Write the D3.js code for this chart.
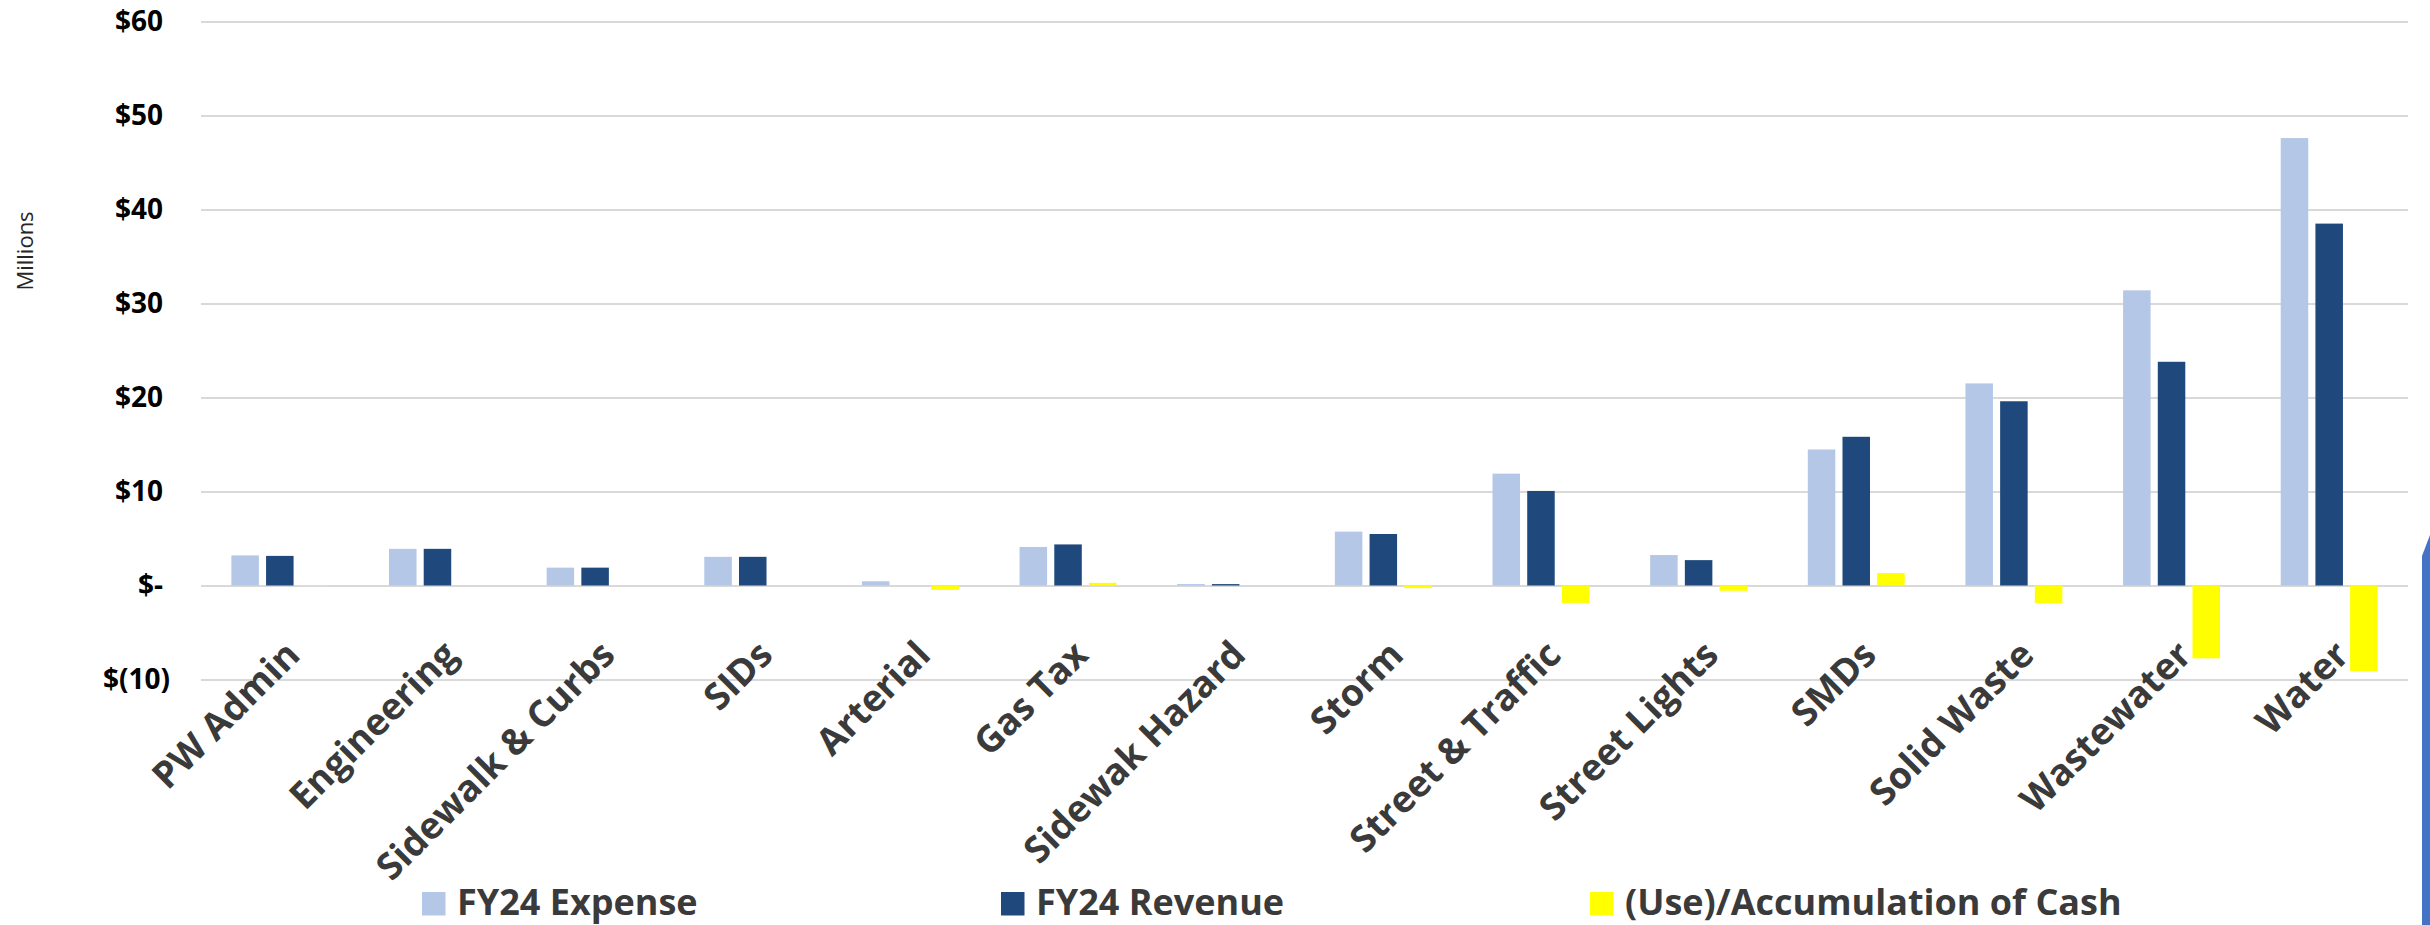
<!DOCTYPE html>
<html>
<head>
<meta charset="utf-8">
<script src="https://cdn.jsdelivr.net/npm/d3@7"></script>
<style>
  body { margin: 0; background: #fff; }
</style>
</head>
<body>
<div id="chart"></div>
<script>
// categories along the x axis
const categories = ["PW Admin", "Engineering", "Sidewalk & Curbs", "SIDs", "Arterial", "Gas Tax",
  "Sidewak Hazard", "Storm", "Street & Traffic", "Street Lights", "SMDs", "Solid Waste", "Wastewater", "Water"];

// values in $ millions
const expense = [3.2, 3.9, 1.9, 3.05, 0.45, 4.1, 0.15, 5.73, 11.9, 3.24, 14.47, 21.5, 31.4, 47.6];
const revenue = [3.15, 3.9, 1.9, 3.05, 0.0, 4.37, 0.15, 5.48, 10.06, 2.7, 15.82, 19.6, 23.8, 38.5];
const cashUse = [-0.05, 0, 0, 0, -0.46, 0.28, 0, -0.28, -1.85, -0.56, 1.32, -1.88, -7.75, -9.1];

const seriesNames = ["FY24 Expense", "FY24 Revenue", "(Use)/Accumulation of Cash"];
const seriesColors = ["#b4c7e7", "#1f497d", "#ffff00"];
const yTicks = [-10, 0, 10, 20, 30, 40, 50, 60];

const width = 2430;
const height = 925;
const marginLeft = 201;
const plotRight = 2408;
const yTop = 21.5;
const yBottom = 679.5;
const font = "'Open Sans', sans-serif";

const rows = categories.map((c, i) => ({
  name: c,
  values: [
    { key: seriesNames[0], v: expense[i] },
    { key: seriesNames[1], v: revenue[i] },
    { key: seriesNames[2], v: cashUse[i] }
  ]
}));

const x = d3.scaleBand().domain(categories).range([marginLeft, plotRight]).padding(0);
const x1 = d3.scaleBand().domain(seriesNames).range([0, x.bandwidth()])
  .paddingInner(0.207).paddingOuter(0.875);
const y = d3.scaleLinear().domain([-10, 60]).range([yBottom, yTop]);
const color = d3.scaleOrdinal().domain(seriesNames).range(seriesColors);

const fmt = d => d === 0 ? "$-" : d < 0 ? "$(" + Math.abs(d) + ")" : "$" + d;

const svg = d3.create("svg").attr("width", width).attr("height", height)
  .attr("font-family", font);

// gridlines + y labels
svg.append("g")
  .attr("transform", `translate(${marginLeft},0)`)
  .call(d3.axisLeft(y).tickValues(yTicks).tickSize(-(plotRight - marginLeft)).tickPadding(38).tickFormat(fmt))
  .attr("font-family", font)
  .call(g => g.select(".domain").remove())
  .call(g => g.selectAll(".tick line").attr("stroke", "#d9d9d9").attr("stroke-width", 2))
  .call(g => g.selectAll(".tick text")
    .attr("font-size", 28).attr("font-weight", "bold").attr("fill", "#000")
    .attr("dx", d => d < 0 ? 7 : 0));

// Millions label
svg.append("text")
  .attr("transform", "translate(33,251) rotate(-90)")
  .attr("text-anchor", "middle")
  .attr("font-size", 22)
  .attr("fill", "#262626")
  .text("Millions");

// bars
svg.append("g")
  .selectAll("g")
  .data(rows)
  .join("g")
  .attr("transform", d => `translate(${x(d.name)},0)`)
  .selectAll("rect")
  .data(d => d.values)
  .join("rect")
  .attr("x", d => x1(d.key))
  .attr("width", x1.bandwidth())
  .attr("y", d => y(Math.max(0, d.v)))
  .attr("height", d => Math.abs(y(d.v) - y(0)))
  .attr("fill", d => color(d.key));

// category labels
svg.append("g")
  .selectAll("text")
  .data(categories)
  .join("text")
  .attr("transform", d => `translate(${x(d) + x.bandwidth() / 2 + 22},657) rotate(-45)`)
  .attr("text-anchor", "end")
  .attr("font-size", 37)
  .attr("font-weight", "bold")
  .attr("fill", "#3a3a3a")
  .text(d => d);

// legend
const legendX = [422, 1001, 1590];
const legend = svg.append("g")
  .selectAll("g")
  .data(seriesNames)
  .join("g")
  .attr("transform", (d, i) => `translate(${legendX[i]},892)`);
legend.append("rect").attr("width", 23.5).attr("height", 23.5).attr("fill", d => color(d));
legend.append("text")
  .attr("x", 35)
  .attr("y", 23)
  .attr("font-size", 36)
  .attr("font-weight", "bold")
  .attr("fill", "#3a3a3a")
  .text(d => d);

// blue edge shape on the right side of the slide
svg.append("path")
  .attr("d", "M2422,556 L2430,535 L2430,925 L2422,925 Z")
  .attr("fill", "#4472c4");

const container = d3.select("#chart").node();
container.appendChild(svg.node());
</script>
</body>
</html>
